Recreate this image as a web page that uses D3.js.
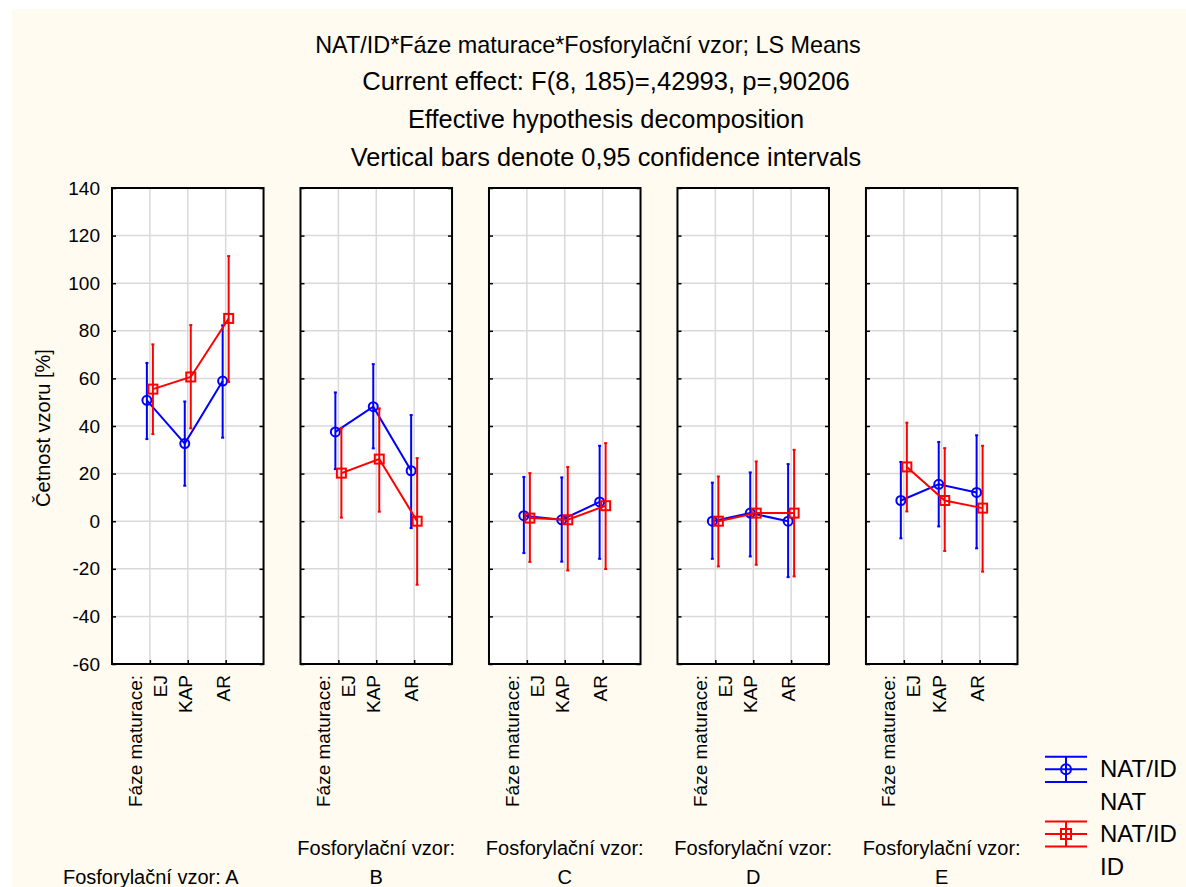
<!DOCTYPE html>
<html>
<head>
<meta charset="utf-8">
<script src="https://cdn.jsdelivr.net/npm/d3@7"></script>
<style>
  html, body { margin: 0; padding: 0; background: #ffffff; }
  svg { display: block; }
  text { font-family: "Liberation Sans", Arial, sans-serif; fill: #000; }
</style>
</head>
<body>
<script>
// ---------------- data ----------------
const titleLines = [
  "NAT/ID*Fáze maturace*Fosforylační vzor; LS Means",
  "Current effect: F(8, 185)=,42993, p=,90206",
  "Effective hypothesis decomposition",
  "Vertical bars denote 0,95 confidence intervals"
];
const panels = ["A", "B", "C", "D", "E"];
const phases = ["EJ", "KAP", "AR"];
const yTicks = [-60, -40, -20, 0, 20, 40, 60, 80, 100, 120, 140];
const yLabel = "Četnost vzoru [%]";
const phaseLabel = "Fáze maturace:";
const panelLabel = "Fosforylační vzor:";

// NAT/ID = NAT (blue)
const natMean = [[50.8, 32.6, 58.9], [37.5, 48.1, 21.2], [2.3, 0.6, 8.1], [0.0, 3.4, 0.0], [8.7, 15.5, 12.1]];
const natLow  = [[34.5, 14.9, 35.1], [21.9, 30.6, -2.9], [-13.4, -17.0, -15.8], [-15.8, -14.8, -23.5], [-7.2, -2.2, -11.4]];
const natHigh = [[66.5, 50.3, 82.3], [54.1, 66.0, 44.6], [18.6, 18.4, 31.7], [16.2, 20.5, 24.0], [24.9, 33.3, 36.1]];
// NAT/ID = ID (red)
const idMean = [[55.5, 60.6, 85.2], [20.2, 26.1, 0.0], [1.3, 0.6, 6.5], [0.0, 3.4, 3.4], [22.8, 8.7, 5.5]];
const idLow  = [[36.6, 39.0, 58.5], [1.5, 4.0, -26.7], [-17.1, -20.7, -20.1], [-19.0, -18.3, -23.2], [4.1, -12.5, -21.2]];
const idHigh = [[74.3, 82.4, 111.4], [39.1, 47.4, 26.5], [20.2, 22.8, 32.8], [18.8, 25.1, 30.0], [41.4, 30.7, 31.7]];

const seriesNames = [["NAT/ID", "NAT"], ["NAT/ID", "ID"]];
const seriesColors = ["#0000ff", "#ff0000"];

// ---------------- layout ----------------
const W = 1186, H = 887;
const plotTop = 188, plotBottom = 664;
const svg = d3.select("body").append("svg").attr("width", W).attr("height", H);

svg.append("rect").attr("x", 12).attr("y", 9).attr("width", W - 12).attr("height", H - 9).attr("fill", "#fffbf0");

const panelX = d3.scaleBand().domain(panels).range([112, 1017.5]).paddingInner(0.196).paddingOuter(0);
const bw = panelX.bandwidth();
const catX = d3.scalePoint().domain(phases).range([0, bw]).padding(1);
const y = d3.scaleLinear().domain([-60, 140]).range([plotBottom, plotTop]);

// title
const titleCenters = [588, 606, 606, 606];
const titleBase = [53, 90, 128, 166];
const titleSizes = [23.4, 25.6, 25.4, 25.3];
svg.selectAll("text.title").data(titleLines).join("text")
  .attr("class", "title")
  .attr("x", (d, i) => titleCenters[i]).attr("y", (d, i) => titleBase[i])
  .attr("text-anchor", "middle").style("font-size", (d, i) => titleSizes[i] + "px").text(d => d);

// y-axis labels (left)
const yAxis = d3.axisLeft(y).tickValues(yTicks).tickSize(0).tickPadding(12).tickFormat(d => String(d));
const ya = svg.append("g").attr("transform", `translate(112,0)`).call(yAxis);
ya.select(".domain").remove();
ya.selectAll("text").style("font-size", "19px").style("font-family", '"Liberation Sans", Arial, sans-serif').attr("fill", "#000");

svg.append("text")
  .attr("transform", `translate(50,428) rotate(-90)`)
  .attr("text-anchor", "middle").style("font-size", "20px").text(yLabel);

const series = [
  { mean: natMean, low: natLow, high: natHigh, color: seriesColors[0], off: -3, marker: "circle" },
  { mean: idMean, low: idLow, high: idHigh, color: seriesColors[1], off: 3, marker: "square" }
];

panels.forEach((p, pi) => {
  const g = svg.append("g").attr("transform", `translate(${panelX(p)},0)`);
  g.append("rect").attr("x", 0).attr("y", plotTop).attr("width", bw).attr("height", plotBottom - plotTop).attr("fill", "#ffffff");
  // grid
  g.selectAll("line.hg").data(yTicks.slice(1, -1)).join("line")
    .attr("x1", 0).attr("x2", bw).attr("y1", d => y(d)).attr("y2", d => y(d))
    .attr("stroke", "#d9d9d9").attr("stroke-width", 1.5);
  g.selectAll("line.vg").data(phases).join("line")
    .attr("x1", d => catX(d)).attr("x2", d => catX(d)).attr("y1", plotTop).attr("y2", plotBottom)
    .attr("stroke", "#d9d9d9").attr("stroke-width", 1.5);
  // inner ticks
  const tl = d3.axisRight(y).tickValues(yTicks).tickSize(4).tickFormat("");
  const tr = d3.axisLeft(y).tickValues(yTicks).tickSize(4).tickFormat("");
  const tb = d3.axisTop(catX).tickSize(4).tickFormat("");
  [g.append("g").call(tl), g.append("g").attr("transform", `translate(${bw},0)`).call(tr),
   g.append("g").attr("transform", `translate(0,${plotBottom})`).call(tb)].forEach(a => {
    a.select(".domain").remove();
    a.selectAll("line").attr("stroke", "#000").attr("stroke-width", 1.5);
  });
  // frame
  g.append("rect").attr("x", 0).attr("y", plotTop).attr("width", bw).attr("height", plotBottom - plotTop)
    .attr("fill", "none").attr("stroke", "#000").attr("stroke-width", 2);

  // series
  series.forEach(s => {
    const pts = phases.map((ph, k) => ({ x: catX(ph) + s.off, m: s.mean[pi][k], lo: s.low[pi][k], hi: s.high[pi][k] }));
    g.append("path").datum(pts)
      .attr("d", d3.line().x(d => d.x).y(d => y(d.m)))
      .attr("fill", "none").attr("stroke", s.color).attr("stroke-width", 2);
    g.selectAll(null).data(pts).join("line")
      .attr("x1", d => d.x).attr("x2", d => d.x).attr("y1", d => y(d.lo)).attr("y2", d => y(d.hi))
      .attr("stroke", s.color).attr("stroke-width", 2);
    ["lo", "hi"].forEach(key => {
      g.selectAll(null).data(pts).join("line")
        .attr("x1", d => d.x - 1.5).attr("x2", d => d.x + 1.5).attr("y1", d => y(d[key])).attr("y2", d => y(d[key]))
        .attr("stroke", s.color).attr("stroke-width", 2);
    });
    if (s.marker === "circle") {
      g.selectAll(null).data(pts).join("circle")
        .attr("cx", d => d.x).attr("cy", d => y(d.m)).attr("r", 4.5)
        .attr("fill", "none").attr("stroke", s.color).attr("stroke-width", 2);
    } else {
      g.selectAll(null).data(pts).join("rect")
        .attr("x", d => d.x - 4.5).attr("y", d => y(d.m) - 4.5).attr("width", 9).attr("height", 9)
        .attr("fill", "none").attr("stroke", s.color).attr("stroke-width", 2);
    }
  });

  // rotated category labels
  phases.forEach((ph, k) => {
    const gx = catX(ph);
    const lines = k === 0 ? [[phaseLabel, gx - 15], [ph, gx + 10]] : [[ph, gx - 2.5]];
    lines.forEach(([t, cx]) => {
      g.append("text")
        .attr("transform", `translate(${cx},${plotBottom + 11}) rotate(-90)`)
        .attr("text-anchor", "end").attr("dy", "0.35em")
        .style("font-size", "19px").text(t);
    });
  });

  // panel label
  const pc = bw / 2;
  if (pi === 0) {
    g.append("text").attr("x", pc - 37).attr("y", 884).attr("text-anchor", "middle")
      .style("font-size", "20px").text(panelLabel + " " + p);
  } else {
    g.append("text").attr("x", pc).attr("y", 855).attr("text-anchor", "middle")
      .style("font-size", "20px").text(panelLabel);
    g.append("text").attr("x", pc).attr("y", 884).attr("text-anchor", "middle")
      .style("font-size", "20px").text(p);
  }
});

// legend
const legY = [769.3, 834];
seriesNames.forEach((names, i) => {
  const cy = legY[i], c = seriesColors[i];
  const lg = svg.append("g");
  [-12.6, 0, 12.6].forEach(dy => lg.append("line").attr("x1", 1045).attr("x2", 1087)
    .attr("y1", cy + dy).attr("y2", cy + dy).attr("stroke", c).attr("stroke-width", 2));
  lg.append("line").attr("x1", 1066).attr("x2", 1066).attr("y1", cy - 12.6).attr("y2", cy + 12.6)
    .attr("stroke", c).attr("stroke-width", 2);
  if (i === 0) lg.append("circle").attr("cx", 1066).attr("cy", cy).attr("r", 5).attr("fill", "none").attr("stroke", c).attr("stroke-width", 2);
  else lg.append("rect").attr("x", 1061).attr("y", cy - 5).attr("width", 10).attr("height", 10).attr("fill", "none").attr("stroke", c).attr("stroke-width", 2);
  names.forEach((t, j) => {
    svg.append("text").attr("x", 1100).attr("y", cy + 8 + j * 33)
      .style("font-size", "24px").text(t);
  });
});
</script>
</body>
</html>
